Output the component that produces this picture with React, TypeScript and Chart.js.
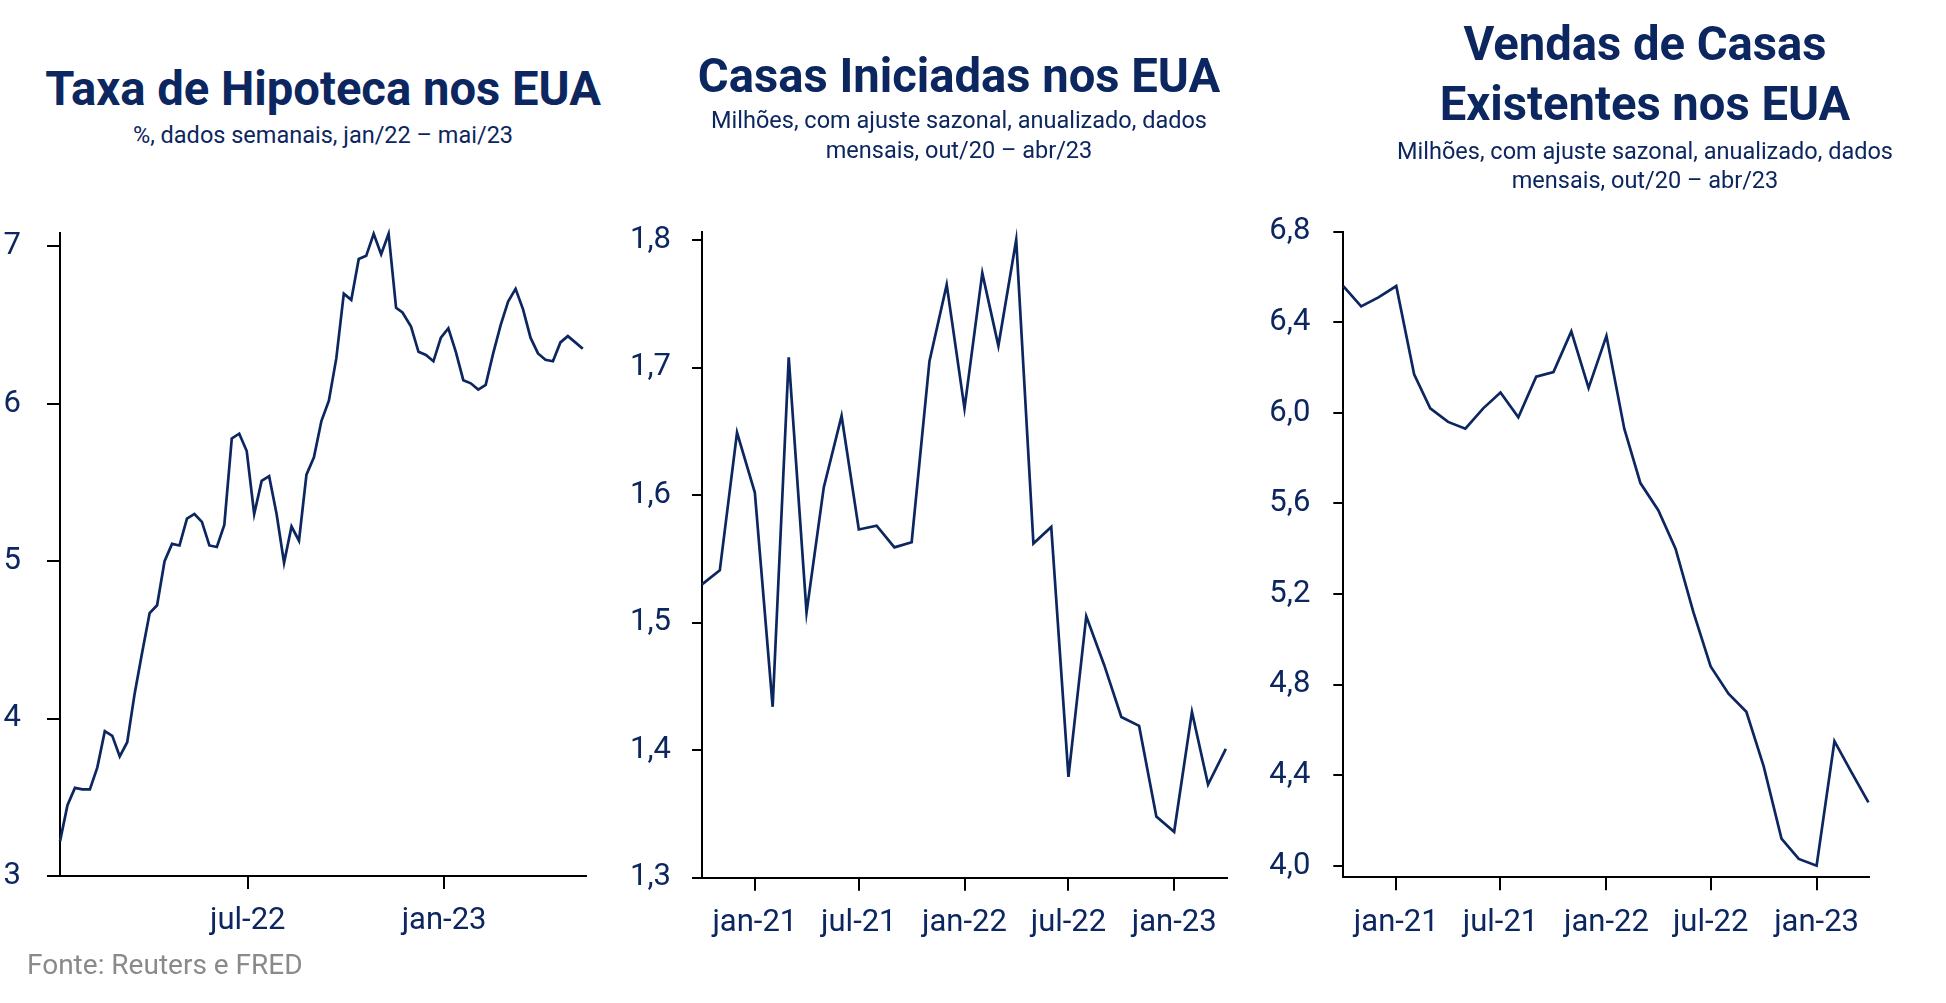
import React, { useEffect, useRef } from 'react';
import { Chart, registerables } from 'chart.js';

Chart.register(...registerables);

const NAVY = '#0c2660';
const FONT_FAMILY = 'Roboto, "Noto Sans", "DejaVu Sans", sans-serif';

// ---------- Chart 1: Taxa de Hipoteca (weekly) ----------
const mortgageDates = [
  '2022-01-06', '2022-01-13', '2022-01-20', '2022-01-27', '2022-02-03', '2022-02-10', '2022-02-17', '2022-02-24',
  '2022-03-03', '2022-03-10', '2022-03-17', '2022-03-24', '2022-03-31', '2022-04-07', '2022-04-14', '2022-04-21',
  '2022-04-28', '2022-05-05', '2022-05-12', '2022-05-19', '2022-05-26', '2022-06-02', '2022-06-09', '2022-06-16',
  '2022-06-23', '2022-06-30', '2022-07-07', '2022-07-14', '2022-07-21', '2022-07-28', '2022-08-04', '2022-08-11',
  '2022-08-18', '2022-08-25', '2022-09-01', '2022-09-08', '2022-09-15', '2022-09-22', '2022-09-29', '2022-10-06',
  '2022-10-13', '2022-10-20', '2022-10-27', '2022-11-03', '2022-11-10', '2022-11-17', '2022-11-23', '2022-12-01',
  '2022-12-08', '2022-12-15', '2022-12-22', '2022-12-29', '2023-01-05', '2023-01-12', '2023-01-19', '2023-01-26',
  '2023-02-02', '2023-02-09', '2023-02-16', '2023-02-23', '2023-03-02', '2023-03-09', '2023-03-16', '2023-03-23',
  '2023-03-30', '2023-04-06', '2023-04-13', '2023-04-20', '2023-04-27', '2023-05-04', '2023-05-11',
];
const mortgageRates = [
  3.22, 3.45, 3.56, 3.55, 3.55, 3.69, 3.92, 3.89,
  3.76, 3.85, 4.16, 4.42, 4.67, 4.72, 5.0, 5.11,
  5.1, 5.27, 5.3, 5.25, 5.1, 5.09, 5.23, 5.78,
  5.81, 5.7, 5.3, 5.51, 5.54, 5.3, 4.99, 5.22,
  5.13, 5.55, 5.66, 5.89, 6.02, 6.29, 6.7, 6.66,
  6.92, 6.94, 7.08, 6.95, 7.08, 6.61, 6.58, 6.49,
  6.33, 6.31, 6.27, 6.42, 6.48, 6.33, 6.15, 6.13,
  6.09, 6.12, 6.32, 6.5, 6.65, 6.73, 6.6, 6.42,
  6.32, 6.28, 6.27, 6.39, 6.43, 6.39, 6.35,
];
const mortgageTickDates = ['2022-07-01', '2023-01-01'];
const mortgageTickLabels = ['jul-22', 'jan-23'];
const mortgageYTicks = [3, 4, 5, 6, 7];

// ---------- Charts 2 & 3: monthly, out/20 – abr/23 ----------
const monthDates = [
  '2020-10-01', '2020-11-01', '2020-12-01', '2021-01-01', '2021-02-01', '2021-03-01', '2021-04-01', '2021-05-01',
  '2021-06-01', '2021-07-01', '2021-08-01', '2021-09-01', '2021-10-01', '2021-11-01', '2021-12-01', '2022-01-01',
  '2022-02-01', '2022-03-01', '2022-04-01', '2022-05-01', '2022-06-01', '2022-07-01', '2022-08-01', '2022-09-01',
  '2022-10-01', '2022-11-01', '2022-12-01', '2023-01-01', '2023-02-01', '2023-03-01', '2023-04-01',
];
const monthTickDates = ['2021-01-01', '2021-07-01', '2022-01-01', '2022-07-01', '2023-01-01'];
const monthTickLabels = ['jan-21', 'jul-21', 'jan-22', 'jul-22', 'jan-23'];

const housingStarts = [
  1.53, 1.541, 1.649, 1.602, 1.434, 1.708, 1.508, 1.606,
  1.662, 1.573, 1.576, 1.559, 1.563, 1.705, 1.765, 1.668,
  1.774, 1.717, 1.8, 1.562, 1.575, 1.379, 1.505, 1.467,
  1.426, 1.419, 1.348, 1.336, 1.43, 1.373, 1.401,
];
const startsYTicks = [1.3, 1.4, 1.5, 1.6, 1.7, 1.8];

const existingSales = [
  6.56, 6.47, 6.51, 6.56, 6.17, 6.02, 5.96, 5.93,
  6.02, 6.09, 5.98, 6.16, 6.18, 6.36, 6.11, 6.34,
  5.93, 5.69, 5.57, 5.4, 5.12, 4.88, 4.76, 4.68,
  4.44, 4.12, 4.03, 4.0, 4.55, 4.42, 4.28,
];
const salesYTicks = [4.0, 4.4, 4.8, 5.2, 5.6, 6.0, 6.4, 6.8];

const dayOffset = (date: string, base: string) =>
  (Date.parse(date + 'T00:00:00Z') - Date.parse(base + 'T00:00:00Z')) / 86400000;

type PanelProps = {
  left: number;
  width: number;
  height: number;
  dates: string[];
  values: number[];
  xMax: number;
  xTickDates: string[];
  xTickLabels: string[];
  yMin: number;
  yMax: number;
  yTicks: number[];
  yDecimals: number;
  yAxisWidth: number;
  yTickLength: number;
  yTickPadding: number;
  padRight: number;
  plotTop: number;
  plotBottom: number;
};

const X_AXIS_HEIGHT = 80;

function LinePanel(p: PanelProps) {
  const ref = useRef<HTMLCanvasElement>(null);
  useEffect(() => {
    const canvas = ref.current;
    if (!canvas) return;
    const base = p.dates[0];
    const points = p.dates.map((d, i) => ({ x: dayOffset(d, base), y: p.values[i] }));
    const xTickValues = p.xTickDates.map((d) => dayOffset(d, base));
    const chart = new Chart(canvas, {
      type: 'line',
      data: {
        datasets: [
          {
            data: points,
            borderColor: NAVY,
            borderWidth: 2.7,
            pointRadius: 0,
            tension: 0,
            fill: false,
            clip: false,
          } as any,
        ],
      },
      options: {
        animation: false,
        responsive: false,
        devicePixelRatio: 1,
        events: [],
        layout: {
          padding: {
            left: 0,
            right: p.padRight,
            top: p.plotTop,
            bottom: p.height - p.plotBottom - X_AXIS_HEIGHT,
          },
        },
        plugins: {
          legend: { display: false },
          tooltip: { enabled: false },
          title: { display: false },
        },
        scales: {
          x: {
            type: 'linear',
            min: 0,
            max: p.xMax,
            afterBuildTicks: (s: any) => {
              s.ticks = xTickValues.map((v) => ({ value: v }));
            },
            afterFit: (s: any) => {
              s.height = X_AXIS_HEIGHT;
            },
            ticks: {
              autoSkip: false,
              maxRotation: 0,
              minRotation: 0,
              padding: 14,
              color: NAVY,
              font: { family: FONT_FAMILY, size: 31 },
              callback: (_v: any, i: number) => p.xTickLabels[i],
            },
            grid: {
              drawOnChartArea: false,
              drawTicks: true,
              tickLength: 13,
              color: '#000',
              lineWidth: 2,
            },
            border: { display: true, color: '#000', width: 2 },
          },
          y: {
            type: 'linear',
            min: p.yMin,
            max: p.yMax,
            afterBuildTicks: (s: any) => {
              s.ticks = p.yTicks.map((v) => ({ value: v }));
            },
            afterFit: (s: any) => {
              s.width = p.yAxisWidth;
            },
            ticks: {
              padding: p.yTickPadding,
              color: NAVY,
              font: { family: FONT_FAMILY, size: 31 },
              callback: (v: any) => Number(v).toFixed(p.yDecimals).replace('.', ','),
            },
            grid: {
              drawOnChartArea: false,
              drawTicks: true,
              tickLength: p.yTickLength,
              color: '#000',
              lineWidth: 2,
            },
            border: { display: true, color: '#000', width: 2 },
          },
        },
      } as any,
    });
    return () => chart.destroy();
  }, []);
  return (
    <canvas
      ref={ref}
      width={p.width}
      height={p.height}
      style={{ position: 'absolute', left: p.left, top: 0, width: p.width, height: p.height }}
    />
  );
}

const titleStyle = (cx: number, top: number, size: number, lh: number): React.CSSProperties => ({
  position: 'absolute',
  left: cx - 400,
  width: 800,
  top,
  textAlign: 'center',
  fontFamily: FONT_FAMILY,
  fontSize: size,
  lineHeight: lh + 'px',
  color: NAVY,
  whiteSpace: 'nowrap',
});

export default function App() {
  return (
    <div style={{ position: 'absolute', left: 0, top: 0, width: 1946, height: 1003, background: '#fff', overflow: 'hidden' }}>
      {/* Chart 1 */}
      <div style={{ ...titleStyle(323, 66, 47.2, 47.2), fontWeight: 700 }}>Taxa de Hipoteca nos EUA</div>
      <div style={titleStyle(323, 123.5, 23.5, 23.5)}>%, dados semanais, jan/22 – mai/23</div>
      <LinePanel
        left={0}
        width={600}
        height={1003}
        dates={mortgageDates}
        values={mortgageRates}
        xMax={493}
        xTickDates={mortgageTickDates}
        xTickLabels={mortgageTickLabels}
        yMin={3}
        yMax={7.085}
        yTicks={mortgageYTicks}
        yDecimals={0}
        yAxisWidth={60}
        yTickLength={13}
        yTickPadding={26}
        padRight={14}
        plotTop={233}
        plotBottom={876}
      />

      {/* Chart 2 */}
      <div style={{ ...titleStyle(959, 53, 47.2, 47.2), fontWeight: 700 }}>Casas Iniciadas nos EUA</div>
      <div style={titleStyle(959, 105, 23.5, 30)}>
        Milhões, com ajuste sazonal, anualizado, dados
        <br />
        mensais, out/20 – abr/23
      </div>
      <div style={{ position: 'absolute', left: 600, top: 0 }}>
        <LinePanel
          left={0}
          width={650}
          height={1003}
          dates={monthDates}
          values={housingStarts}
          xMax={914}
          xTickDates={monthTickDates}
          xTickLabels={monthTickLabels}
          yMin={1.3}
          yMax={1.806}
          yTicks={startsYTicks}
          yDecimals={1}
          yAxisWidth={102}
          yTickLength={10}
          yTickPadding={21}
          padRight={23}
          plotTop={232.3}
          plotBottom={877.7}
        />
      </div>

      {/* Chart 3 */}
      <div style={{ ...titleStyle(1645, 14, 47.2, 60), fontWeight: 700 }}>
        Vendas de Casas
        <br />
        Existentes nos EUA
      </div>
      <div style={titleStyle(1645, 137.2, 23.5, 29)}>
        Milhões, com ajuste sazonal, anualizado, dados
        <br />
        mensais, out/20 – abr/23
      </div>
      <div style={{ position: 'absolute', left: 1250, top: 0 }}>
        <LinePanel
          left={0}
          width={696}
          height={1003}
          dates={monthDates}
          values={existingSales}
          xMax={913}
          xTickDates={monthTickDates}
          xTickLabels={monthTickLabels}
          yMin={3.949}
          yMax={6.8}
          yTicks={salesYTicks}
          yDecimals={1}
          yAxisWidth={93.3}
          yTickLength={10}
          yTickPadding={23}
          padRight={77}
          plotTop={231.7}
          plotBottom={877.3}
        />
      </div>

      <div
        style={{
          position: 'absolute',
          left: 27,
          top: 951,
          fontFamily: FONT_FAMILY,
          fontSize: 28,
          lineHeight: '28px',
          color: '#8a8a8a',
          whiteSpace: 'nowrap',
        }}
      >
        Fonte: Reuters e FRED
      </div>
    </div>
  );
}
